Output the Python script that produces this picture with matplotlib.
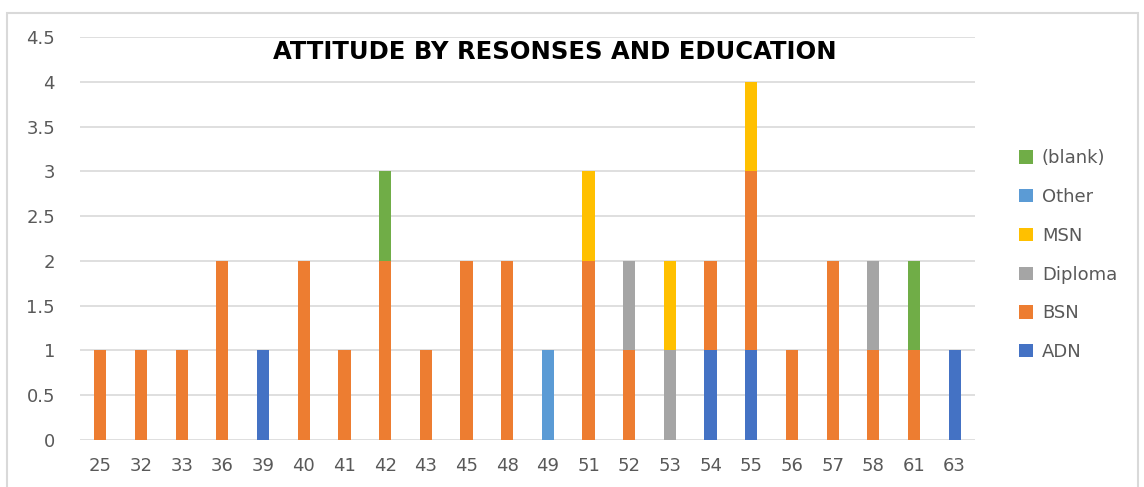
import matplotlib
matplotlib.use("Agg")
import matplotlib.pyplot as plt
import numpy as np
from matplotlib.patches import Rectangle

plt.rcParams['font.family'] = ['DejaVu Sans']

ages = ['25', '32', '33', '36', '39', '40', '41', '42', '43', '45', '48',
        '49', '51', '52', '53', '54', '55', '56', '57', '58', '61', '63']
adn     = [0, 0, 0, 0, 1, 0, 0, 0, 0, 0, 0, 0, 0, 0, 0, 1, 1, 0, 0, 0, 0, 1]
bsn     = [1, 1, 1, 2, 0, 2, 1, 2, 1, 2, 2, 0, 2, 1, 0, 1, 2, 1, 2, 1, 1, 0]
diploma = [0, 0, 0, 0, 0, 0, 0, 0, 0, 0, 0, 0, 0, 1, 1, 0, 0, 0, 0, 1, 0, 0]
msn     = [0, 0, 0, 0, 0, 0, 0, 0, 0, 0, 0, 0, 1, 0, 1, 0, 1, 0, 0, 0, 0, 0]
other   = [0, 0, 0, 0, 0, 0, 0, 0, 0, 0, 0, 1, 0, 0, 0, 0, 0, 0, 0, 0, 0, 0]
blank   = [0, 0, 0, 0, 0, 0, 0, 1, 0, 0, 0, 0, 0, 0, 0, 0, 0, 0, 0, 0, 1, 0]

series = [('ADN', adn, '#4472C4'), ('BSN', bsn, '#ED7D31'),
          ('Diploma', diploma, '#A5A5A5'), ('MSN', msn, '#FFC000'),
          ('Other', other, '#5B9BD5'), ('(blank)', blank, '#70AD47')]

fig = plt.figure(figsize=(11.44, 4.87), dpi=100)
fig.patches.append(Rectangle((7/1144, -0.05), 1131/1144, 1 - 13/487 + 0.05,
                             transform=fig.transFigure, fill=False,
                             edgecolor='#D9D9D9', linewidth=1.5))
ax = fig.add_axes([80/1144, 1 - 440/487, 895/1144, 403/487])

x = np.arange(len(ages))
bottom = np.zeros(len(ages))
for name, vals, col in series:
    vals = np.array(vals, dtype=float)
    ax.bar(x, vals, 0.3, bottom=bottom, color=col, label=name, zorder=3)
    bottom += vals

ax.set_xlim(-0.5, len(ages) - 0.5)
ax.set_ylim(0, 4.5)
ax.set_yticks(np.arange(0, 4.51, 0.5))
ax.set_yticklabels(['0', '0.5', '1', '1.5', '2', '2.5', '3', '3.5', '4', '4.5'])
ax.set_xticks(x)
ax.set_xticklabels(ages)
ax.grid(axis='y', color='#D9D9D9', linewidth=1.2, zorder=0)
for s in ax.spines.values():
    s.set_visible(False)
ax.tick_params(axis='both', length=0, labelsize=13, colors='#595959')
ax.tick_params(axis='x', pad=12)
ax.tick_params(axis='y', pad=18)

fig.text(555/1144, 1 - 52/487, 'ATTITUDE BY RESONSES AND EDUCATION',
         ha='center', va='center', fontsize=17.5, fontweight='bold', color='black')

h, l = ax.get_legend_handles_labels()
leg = fig.legend(h[::-1], l[::-1], loc='upper left',
                 bbox_to_anchor=(1003/1144, 1 - 133/487), frameon=False,
                 fontsize=13, handlelength=0.75, handleheight=0.75,
                 labelspacing=1.15, handletextpad=0.5)
for t in leg.get_texts():
    t.set_color('#595959')

fig.savefig('out.png', dpi=100)
